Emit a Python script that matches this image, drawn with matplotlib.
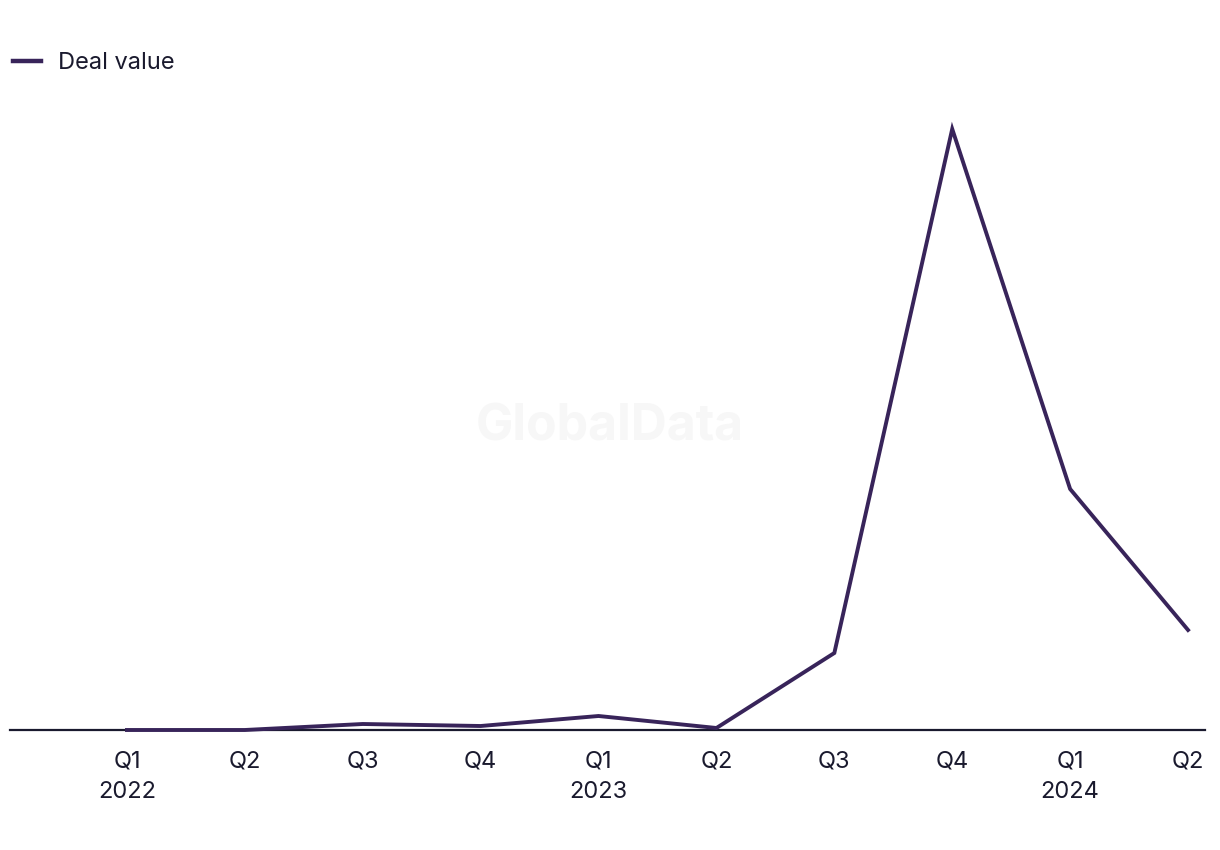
import matplotlib
matplotlib.use("Agg")
import matplotlib.pyplot as plt
from matplotlib.lines import Line2D

quarters = ["Q1\n2022", "Q2", "Q3", "Q4", "Q1\n2023", "Q2", "Q3", "Q4", "Q1\n2024", "Q2"]
deal_value = [0, 0, 6, 4, 14, 2, 77, 601, 241, 100]

plt.rcParams['font.family'] = ['Inter', 'DejaVu Sans']

fig = plt.figure(figsize=(12.2, 8.5), dpi=100)
ax = fig.add_axes([10/1220, 120/850, 1195/1220, 630/850])

x = list(range(len(quarters)))
line_color = "#38245a"
ax.plot(x, deal_value, color=line_color, lw=2.8, solid_joinstyle='miter', zorder=3, clip_on=False)

ax.set_xlim(-0.992, 9.144)
ax.set_ylim(0, 630)
ax.set_xticks(x)
ax.set_xticklabels(quarters, fontsize=17, color="#1a1a2e", linespacing=1.5)
ax.tick_params(axis='x', length=0, pad=15)
ax.set_yticks([])
for s in ["top", "right", "left"]:
    ax.spines[s].set_visible(False)
ax.spines["bottom"].set_color("#1a1a2e")
ax.spines["bottom"].set_linewidth(1.6)

fig.text(610/1220, 1 - 427/850, "GlobalData", fontsize=36, fontweight='bold',
         color="#f7f7f7", ha='center', va='center', zorder=0)

handle = Line2D([], [], color=line_color, lw=3.2)
fig.legend([handle], ["Deal value"], loc='center left',
           bbox_to_anchor=(4/1220, 1 - 63/850), frameon=False,
           fontsize=17, handlelength=1.15, handletextpad=0.75, borderaxespad=0,
           labelcolor="#1a1a2e")

fig.savefig("out.png", dpi=100, facecolor="white")
